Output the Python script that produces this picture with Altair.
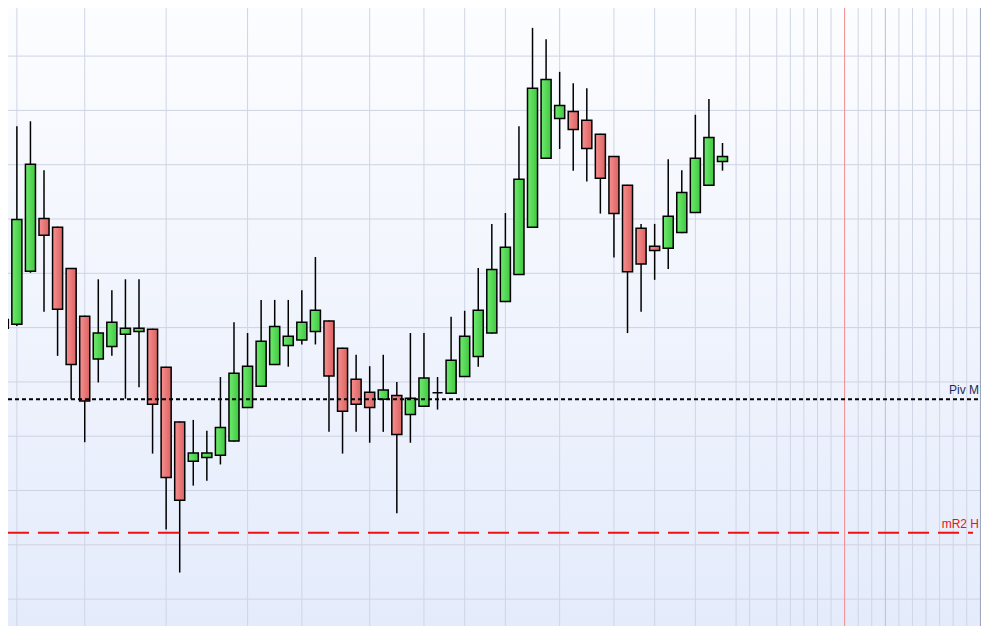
import altair as alt
import pandas as pd

# daily candles (price units are arbitrary, grid every 10)
opens = [149.9, 150.6, 160.4, 170.1, 168.5, 160.9, 152.1, 144.2, 146.5, 148.8,
         149.3, 149.7, 142.7, 132.6, 125.4, 126.1, 126.5, 129.1, 135.3, 139.2,
         143.2, 146.7, 147.7, 149.3, 151.2, 146.2, 140.5, 138.1, 136.8, 137.5,
         134.0, 135.5, 138.0, 137.9, 141.0, 144.7, 149.0, 154.8, 159.8, 168.5,
         181.2, 188.5, 189.8, 188.2, 185.6, 181.5, 176.2, 168.3, 165.0, 164.6,
         167.5, 171.2, 176.2, 180.6]
highs = [156.9, 187.1, 188.0, 179.0, 168.6, 161.0, 152.2, 158.9, 156.9, 158.9,
         158.9, 149.8, 142.8, 132.7, 133.0, 131.0, 140.9, 151.0, 149.0, 155.1,
         155.1, 155.1, 156.9, 163.0, 151.3, 146.3, 145.0, 142.9, 145.0, 140.0,
         149.0, 149.0, 140.9, 152.0, 153.1, 161.0, 169.1, 171.1, 187.1, 205.2,
         203.1, 197.1, 195.0, 194.1, 185.7, 181.6, 176.3, 169.1, 169.1, 181.0,
         179.0, 189.2, 192.1, 184.0]
lows = [142.8, 150.3, 160.1, 152.9, 144.8, 136.8, 128.9, 139.9, 144.8, 136.9,
        139.0, 126.8, 112.8, 104.9, 120.9, 121.8, 124.8, 129.0, 135.2, 139.1,
        143.1, 142.8, 146.9, 146.9, 130.8, 126.8, 130.8, 128.8, 130.8, 115.8,
        128.8, 135.4, 134.9, 137.8, 140.9, 142.8, 148.9, 154.7, 159.7, 168.4,
        181.1, 182.9, 178.9, 176.9, 171.0, 162.9, 149.0, 152.9, 158.8, 160.8,
        167.4, 171.1, 176.1, 178.9]
closes = [151.5, 169.9, 180.1, 167.0, 153.4, 143.2, 136.5, 149.0, 151.0, 149.9,
          149.9, 135.9, 122.4, 118.2, 126.9, 126.9, 131.6, 141.6, 142.9, 147.5,
          150.2, 148.4, 151.0, 153.2, 141.1, 134.6, 135.9, 135.3, 138.5, 130.3,
          137.0, 140.7, 138.0, 144.0, 148.4, 153.2, 160.7, 164.8, 177.3, 194.1,
          195.7, 190.9, 186.5, 183.0, 177.5, 171.0, 160.3, 161.7, 164.2, 170.5,
          174.9, 181.2, 185.0, 181.5]

# vertical grid (bar positions), the heavier one, and today's marker
grid_bars = [1, 6, 12, 18, 22, 27, 31, 34, 37, 41, 45, 48, 51, 54, 55, 57, 58,
             59, 60, 61, 63, 64, 66, 67, 68, 69, 70, 71, 72]
major_bars = [65]
today_bar = [62]
price_grid = [100, 110, 120, 130, 140, 150, 160, 170, 180, 190, 200]

level_names = ["Piv M", "mR2 H"]
level_values = [136.8, 112.2]

W, H = 973, 618

candles = pd.DataFrame({
    "bar": range(len(opens)),
    "open": opens, "high": highs, "low": lows, "close": closes,
})
candles["up"] = candles["close"] >= candles["open"]

xs = alt.Scale(domain=[0.346, 72.05], nice=False, zero=False)
ys = alt.Scale(domain=[95.05, 208.86], nice=False, zero=False)

bg = alt.Chart(pd.DataFrame({"a": [0]})).mark_rect(
    fill=alt.LinearGradient(
        gradient="linear", x1=0, y1=0, x2=0, y2=1,
        stops=[alt.GradientStop(offset=0, color="#fcfdff"),
               alt.GradientStop(offset=1, color="#e4ebfb")],
    )
).encode(x=alt.value(0), x2=alt.value(W), y=alt.value(0), y2=alt.value(H))

vgrid = alt.Chart(pd.DataFrame({"bar": grid_bars})).mark_rule(
    color="#cfd5e4", strokeWidth=1
).encode(x=alt.X("bar:Q", scale=xs, axis=None))

vmajor = alt.Chart(pd.DataFrame({"bar": major_bars})).mark_rule(
    color="#b8c0d4", strokeWidth=1
).encode(x=alt.X("bar:Q", scale=xs, axis=None))

hgrid = alt.Chart(pd.DataFrame({"p": price_grid})).mark_rule(
    color="#cdd3e2", strokeWidth=1
).encode(y=alt.Y("p:Q", scale=ys, axis=None), x=alt.value(0), x2=alt.value(W))

today = alt.Chart(pd.DataFrame({"bar": today_bar})).mark_rule(
    color="#f28b8d", strokeWidth=1
).encode(x=alt.X("bar:Q", scale=xs, axis=None))

levels = pd.DataFrame({"name": level_names, "value": level_values})

piv = alt.Chart(levels).transform_filter(alt.datum.name == "Piv M").mark_rule(
    color="black", strokeWidth=2, strokeDash=[4, 3]
).encode(y=alt.Y("value:Q", scale=ys, axis=None), x=alt.value(0), x2=alt.value(W))

mr2 = alt.Chart(levels).transform_filter(alt.datum.name == "mR2 H").mark_rule(
    color="#ee1111", strokeWidth=2, strokeDash=[21, 9]
).encode(y=alt.Y("value:Q", scale=ys, axis=None), x=alt.value(0), x2=alt.value(W - 8))

labels = alt.Chart(levels).mark_text(
    align="right", baseline="bottom", dy=-2, font="Liberation Sans", fontSize=12
).encode(
    y=alt.Y("value:Q", scale=ys, axis=None),
    x=alt.value(W - 2),
    text="name:N",
    color=alt.Color("name:N", scale=alt.Scale(domain=level_names,
                                              range=["#1c2a58", "#ee1111"]),
                    legend=None),
)

base = alt.Chart(candles).transform_calculate(
    left="datum.bar - 0.37", right="datum.bar + 0.37"
)

wicks = base.mark_rule(color="black", strokeWidth=1.5, clip=True).encode(
    x=alt.X("bar:Q", scale=xs, axis=None),
    y=alt.Y("low:Q", scale=ys, axis=None),
    y2="high:Q",
)

green = alt.LinearGradient(
    gradient="linear", x1=0, y1=0, x2=1, y2=0,
    stops=[alt.GradientStop(offset=0, color="#6fea6f"),
           alt.GradientStop(offset=1, color="#40c840")],
)
red = alt.LinearGradient(
    gradient="linear", x1=0, y1=0, x2=1, y2=0,
    stops=[alt.GradientStop(offset=0, color="#f69090"),
           alt.GradientStop(offset=1, color="#dc6262")],
)

bodies_up = base.transform_filter(alt.datum.up).mark_rect(
    fill=green, stroke="black", strokeWidth=1.5, clip=True
).encode(
    x=alt.X("left:Q", scale=xs, axis=None), x2="right:Q",
    y=alt.Y("open:Q", scale=ys, axis=None), y2="close:Q",
)
bodies_down = base.transform_filter(~alt.datum.up).mark_rect(
    fill=red, stroke="black", strokeWidth=1.5, clip=True
).encode(
    x=alt.X("left:Q", scale=xs, axis=None), x2="right:Q",
    y=alt.Y("open:Q", scale=ys, axis=None), y2="close:Q",
)

edge = alt.Chart(pd.DataFrame({"a": [0]})).mark_rule(
    color="#9ea7bd", strokeWidth=1
).encode(x=alt.value(W - 0.5), y=alt.value(0), y2=alt.value(H))

chart = alt.layer(
    bg, hgrid, vgrid, vmajor, today, wicks, bodies_up, bodies_down,
    piv, mr2, labels, edge
).properties(
    width=W, height=H, padding=0,
    autosize=alt.AutoSizeParams(type="none"),
).configure_view(stroke=None)

chart.save("out.html", embed_options={"renderer": "svg", "actions": False})
